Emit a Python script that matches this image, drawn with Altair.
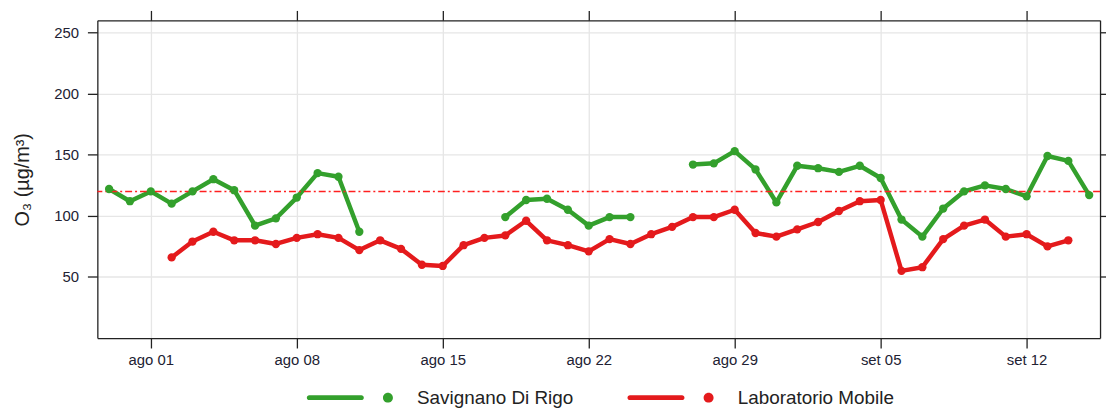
import altair as alt
import pandas as pd

# ---- data ----
series_names = ["Savignano Di Rigo", "Laboratorio Mobile"]
series_colors = ["#33a02c", "#e41a1c"]

green_seg1_start = "2022-07-30"
green_seg1 = [122, 112, 120, 110, 120, 130, 121, 92, 98, 115, 135, 132, 87]
green_seg2_start = "2022-08-18"
green_seg2 = [99, 113, 114, 105, 92, 99, 99]
green_seg3_start = "2022-08-27"
green_seg3 = [142, 143, 153, 138, 111, 141, 139, 136, 141, 131, 97, 83, 106,
              120, 125, 122, 116, 149, 145, 117]

red_start = "2022-08-02"
red_values = [66, 79, 87, 80, 80, 77, 82, 85, 82, 72, 80, 73, 60, 59, 76, 82,
              84, 96, 80, 76, 71, 81, 77, 85, 91, 99, 99, 105, 86, 83,
              89, 95, 104, 112, 113, 55, 58, 81, 92, 97, 83, 85, 75, 80]

threshold = 120
y_ticks = [50, 100, 150, 200, 250]
x_tick_dates = ["2022-08-01", "2022-08-08", "2022-08-15", "2022-08-22",
                "2022-08-29", "2022-09-05", "2022-09-12"]

rows = []
def add(start, vals, name, seg):
    dates = pd.date_range(start, periods=len(vals), freq="D")
    for d, v in zip(dates, vals):
        rows.append({"date": d.strftime("%Y-%m-%d"), "value": v,
                     "series": name, "seg": seg})

add(green_seg1_start, green_seg1, series_names[0], "g1")
add(green_seg2_start, green_seg2, series_names[0], "g2")
add(green_seg3_start, green_seg3, series_names[0], "g3")
add(red_start, red_values, series_names[1], "r1")
df = pd.DataFrame(rows)

FONT = "Liberation Sans"
x_domain = [alt.DateTime(year=2022, month=7, date=29, hours=10, minutes=30, utc=True),
            alt.DateTime(year=2022, month=9, date=15, hours=12, minutes=30, utc=True)]
x_values = [alt.DateTime(year=int(s[:4]), month=int(s[5:7]), date=int(s[8:]), utc=True)
            for s in x_tick_dates]
xscale = alt.Scale(type="utc", domain=x_domain, nice=False)
yscale = alt.Scale(domain=[0, 260], nice=False, zero=False)
cscale = alt.Scale(domain=series_names, range=series_colors)

label_expr = "(utcmonth(datum.value) == 7 ? 'ago ' : 'set ') + utcFormat(datum.value, '%d')"

base = alt.Chart(df)

x_bottom = alt.X("date:T", scale=xscale,
                 axis=alt.Axis(orient="bottom", values=x_values, labelExpr=label_expr,
                               title=None, grid=True, tickSize=10, labelPadding=5,
                               labelFontSize=15, labelColor="#222233", labelFont=FONT,
                               domainColor="#222222", tickColor="#222222",
                               gridColor="#e6e6e6", gridWidth=1.3, labelFlush=False))
y_left = alt.Y("value:Q", scale=yscale,
               axis=alt.Axis(orient="left", values=y_ticks, title="O₃ (µg/m³)",
                             grid=True, tickSize=10, labelPadding=9,
                             labelFontSize=15, labelColor="#222233", labelFont=FONT,
                             titleFont=FONT, titleFontSize=20, titleFontWeight="normal",
                             titleColor="#222222", titlePadding=21,
                             domainColor="#222222", tickColor="#222222",
                             gridColor="#e6e6e6", gridWidth=1.3))

line_layers = []
for i, (name, col) in enumerate(zip(series_names, series_colors)):
    enc = dict(x=x_bottom, y=y_left, detail="seg:N") if i == 0 else dict(
        x=alt.X("date:T", scale=xscale, axis=None),
        y=alt.Y("value:Q", scale=yscale, axis=None), detail="seg:N")
    line_layers.append(
        base.transform_filter(alt.datum.series == name)
        .mark_line(strokeWidth=4.5, strokeCap="round", strokeJoin="round", color=col)
        .encode(**enc)
    )

legend_path = ("M -0.943 -0.057 L 0.248 -0.057 A 0.057 0.057 0 0 1 0.248 0.057 "
               "L -0.943 0.057 A 0.057 0.057 0 0 1 -0.943 -0.057 Z "
               "M 0.743 0 A 0.114 0.114 0 1 1 0.971 0 A 0.114 0.114 0 1 1 0.743 0 Z")

points = base.mark_circle(size=70, opacity=1).encode(
    x=alt.X("date:T", scale=xscale, axis=None),
    y=alt.Y("value:Q", scale=yscale, axis=None),
    fill=alt.Fill("series:N", scale=cscale,
                  legend=alt.Legend(orient="none", legendX=211, legendY=336,
                                    direction="horizontal", columns=2, title=None,
                                    symbolType=legend_path, symbolSize=7744,
                                    symbolStrokeWidth=0, symbolOpacity=1,
                                    labelFont=FONT, labelFontSize=19,
                                    labelColor="#222222", labelOffset=23,
                                    columnPadding=54, padding=0,
                                    labelLimit=400)),
)

rule = alt.Chart(pd.DataFrame({"t": [threshold]})).mark_rule(
    color="#ff2020", strokeWidth=1.6, strokeDash=[7, 3, 2, 3]
).encode(y=alt.Y("t:Q", scale=yscale, axis=None))

frame = base.mark_point(opacity=0).encode(
    x=alt.X("date:T", scale=xscale,
            axis=alt.Axis(orient="top", values=x_values, labels=False, title=None,
                          grid=False, tickSize=10, domainColor="#222222",
                          tickColor="#222222")),
    y=alt.Y("value:Q", scale=yscale,
            axis=alt.Axis(orient="right", values=y_ticks, labels=False, title=None,
                          grid=False, tickSize=6, domainColor="#222222",
                          tickColor="#222222")),
)

chart = alt.layer(frame, *line_layers, rule, points).resolve_axis(
    x="independent", y="independent"
).properties(
    width=1010, height=320,
    autosize=alt.AutoSizeParams(type="none"),
    padding={"left": 90, "top": 11, "right": 6, "bottom": 71},
).configure_view(stroke=None).configure_axis(domainWidth=1.3, tickWidth=1.3)

chart.save("out.html", embed_options={"renderer": "svg", "actions": False})
